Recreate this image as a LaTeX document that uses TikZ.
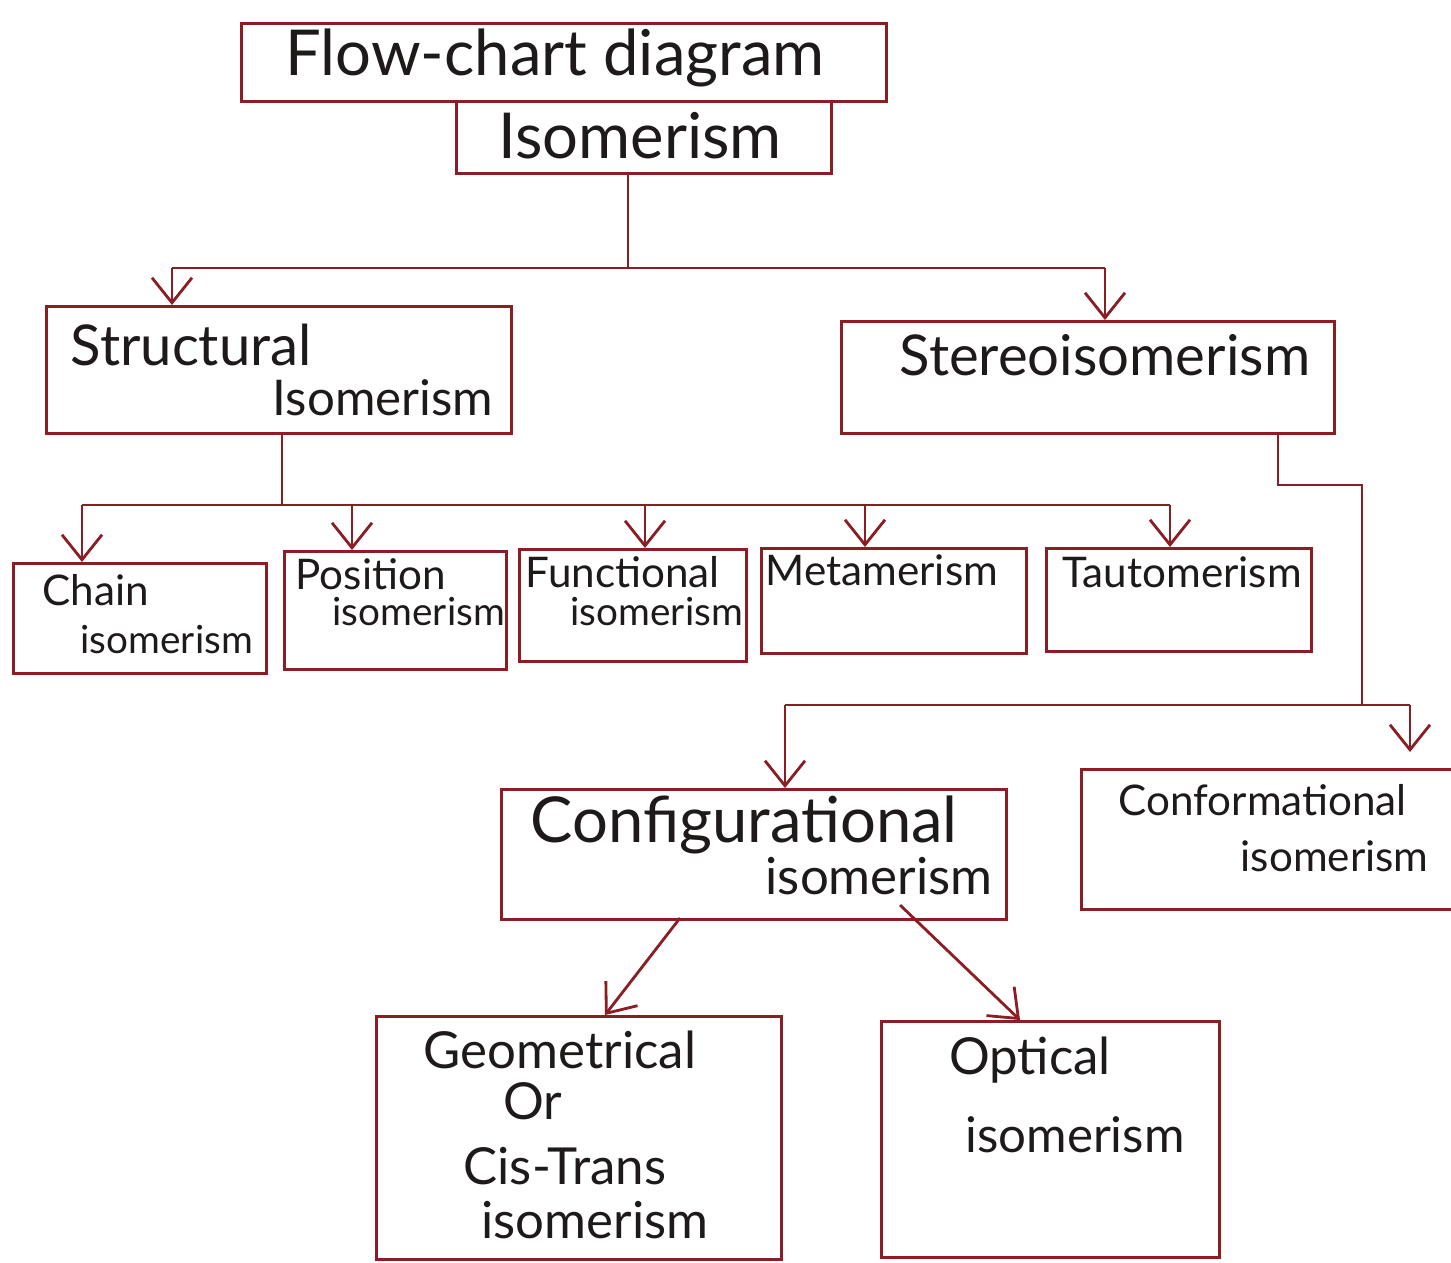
\documentclass[tikz,border=0pt]{standalone}
\usepackage{fontspec}
\setmainfont{Lato}
\usetikzlibrary{arrows.meta}
\definecolor{ink}{HTML}{8B1E24}
\definecolor{txt}{HTML}{1E1A1A}
\begin{document}
\begin{tikzpicture}[x=0.01cm,y=-0.01cm,
  box/.style={draw=ink,line width=0.8pt,rectangle,inner sep=0pt,anchor=north west},
  lbl/.style={text=txt,inner sep=0pt},
  conn/.style={draw=ink,line width=0.8pt},
  arr/.style={conn,-{Straight Barb[length=2.5mm,width=4mm]}},
  fbig/.style={font=\fontsize{18}{20}\selectfont},
  fmid/.style={font=\fontsize{16}{18}\selectfont},
  fgeo/.style={font=\fontsize{14.5}{16}\selectfont},
  fsub/.style={font=\fontsize{14}{16}\selectfont},
  fsm/.style={font=\fontsize{12}{14}\selectfont},
  fxs/.style={font=\fontsize{11}{13}\selectfont}]
\useasboundingbox (0,0) rectangle (1451,1262);

% boxes
\node[box,minimum width=6.45cm,minimum height=0.78cm] (title) at (240,22) {};
\node[box,minimum width=3.75cm,minimum height=0.72cm] (iso) at (455,100) {};
\node[box,minimum width=4.65cm,minimum height=1.27cm] (struct) at (45,305) {};
\node[box,minimum width=4.93cm,minimum height=1.12cm] (stereo) at (840,320) {};
\node[box,minimum width=2.53cm,minimum height=1.10cm] (chain) at (12,562) {};
\node[box,minimum width=2.22cm,minimum height=1.18cm] (posn) at (283,550) {};
\node[box,minimum width=2.27cm,minimum height=1.12cm] (func) at (518,548) {};
\node[box,minimum width=2.65cm,minimum height=1.05cm] (meta) at (760,547) {};
\node[box,minimum width=2.65cm,minimum height=1.03cm] (taut) at (1045,547) {};
\node[box,minimum width=5.05cm,minimum height=1.30cm] (config) at (500,788) {};
\node[box,minimum width=4.30cm,minimum height=1.40cm] (conf) at (1080,768) {};
\node[box,minimum width=4.05cm,minimum height=2.43cm] (geom) at (375,1015) {};
\node[box,minimum width=3.38cm,minimum height=2.36cm] (opt) at (880,1020) {};

% labels
\node[lbl,fbig] (tTitle) at (555,58) {Flow-chart diagram};
\node[lbl,fbig] (tIso) at (640,136) {Isomerism};
\node[lbl,fmid,anchor=west] (tS1) at (70,345) {Structural};
\node[lbl,fsub,anchor=west] (tS2) at (272,398) {Isomerism};
\node[lbl,fmid] (tSt) at (1105,355) {Stereoisomerism};
\node[lbl,fsm,anchor=west] (tC1) at (42,590) {Chain};
\node[lbl,fxs,anchor=west] (tC2) at (80,640) {isomerism};
\node[lbl,fsm,anchor=west] (tP1) at (295,574) {Position};
\node[lbl,fxs,anchor=west] (tP2) at (332,612) {isomerism};
\node[lbl,fsm,anchor=west] (tF1) at (525,572) {Functional};
\node[lbl,fxs,anchor=west] (tF2) at (570,612) {isomerism};
\node[lbl,fsm,anchor=west] (tM) at (765,570) {Metamerism};
\node[lbl,fsm,anchor=west] (tT) at (1062,572) {Tautomerism};
\node[lbl,fbig,anchor=west] (tCf1) at (530,825) {Configurational};
\node[lbl,fgeo,anchor=west] (tCf2) at (765,876) {isomerism};
\node[lbl,fsm,anchor=west] (tCo1) at (1118,800) {Conformational};
\node[lbl,fsm,anchor=west] (tCo2) at (1240,856) {isomerism};
\node[lbl,fgeo] (tG1) at (560,1050) {Geometrical};
\node[lbl,fgeo] (tG2) at (533,1101) {Or};
\node[lbl,fgeo] (tG3) at (565,1166) {Cis-Trans};
\node[lbl,fgeo] (tG4) at (595,1220) {isomerism};
\node[lbl,fgeo] (tO1) at (1030,1060) {Optical};
\node[lbl,fsub] (tO2) at (1075,1135) {isomerism};

% junction coordinates
\coordinate (j1) at (628,268);
\coordinate (j1L) at (172,268);
\coordinate (j1R) at (1105,268);
\coordinate (j2) at (282,505);
\coordinate (j2L) at (82,505);
\coordinate (j2R) at (1170,505);
\coordinate (b3a) at (1278,485);
\coordinate (b3b) at (1362,485);
\coordinate (j3) at (1362,705);
\coordinate (j3L) at (785,705);
\coordinate (j3R) at (1410,705);

% connectors: Isomerism -> Structural / Stereo
\draw[conn] (j1 |- iso.south) -- (j1);
\draw[conn] (j1L) -- (j1R);
\draw[arr] (j1L) -- (j1L |- struct.north);
\draw[arr] (j1R) -- (j1R |- stereo.north);

% Structural -> five types
\draw[conn] (j2 |- struct.south) -- (j2);
\draw[conn] (j2L) -- (j2R);
\draw[arr] (j2L) -- (j2L |- chain.north);
\draw[arr] (352,505) -- (352,550 |- posn.north);
\draw[arr] (645,505) -- (645,548 |- func.north);
\draw[arr] (865,505) -- (865,547 |- meta.north);
\draw[arr] (j2R) -- (j2R |- taut.north);

% Stereo -> Configurational / Conformational
\draw[conn] (b3a |- stereo.south) -- (b3a) -- (b3b) -- (j3);
\draw[conn] (j3L) -- (j3R);
\draw[arr] (j3L) -- (j3L |- config.north);
\draw[arr] (j3R) -- (1410,752);

% Configurational -> Geometrical / Optical
\draw[arr] (680,918) -- (605,1015);
\draw[arr] (900,905) -- (1020,1020);
\end{tikzpicture}
\end{document}
